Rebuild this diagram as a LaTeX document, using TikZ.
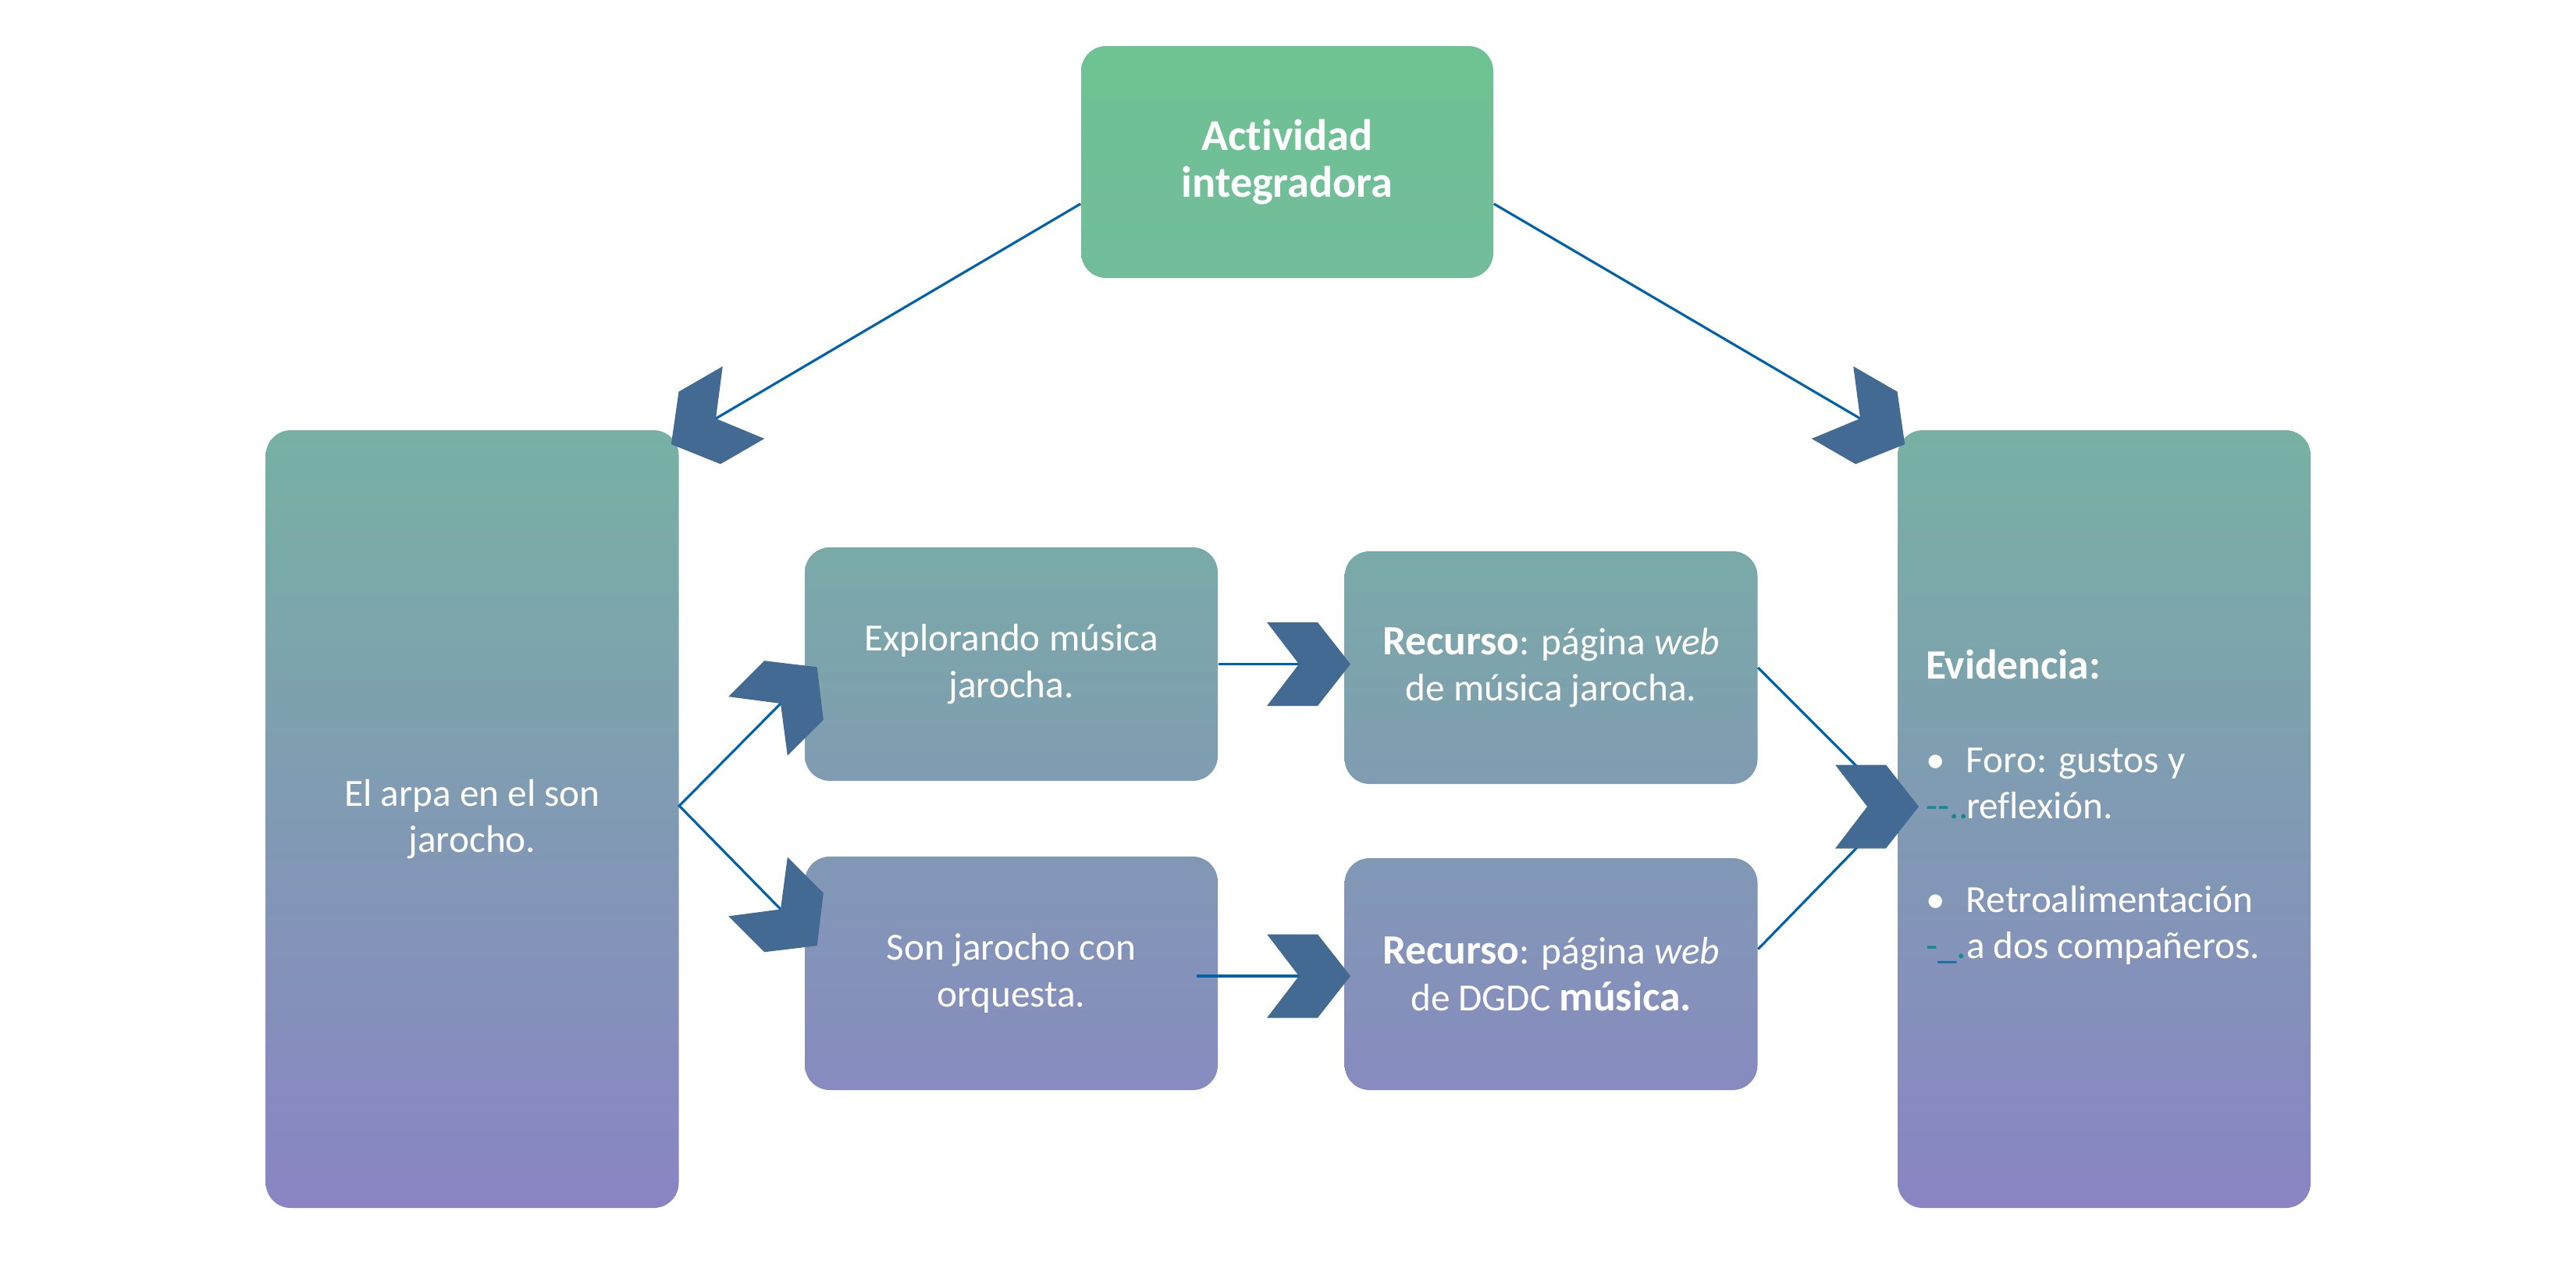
\documentclass[tikz,border=0pt]{standalone}
\usepackage{fontspec}
\setmainfont{Carlito}[Ligatures=NoCommon]
\usetikzlibrary{calc}
\definecolor{chevfill}{RGB}{66,106,147}
\definecolor{linkblue}{RGB}{0,98,170}
\definecolor{artteal}{RGB}{22,137,140}
\definecolor{artblue}{RGB}{24,108,158}
\definecolor{gA}{RGB}{110,195,146}
\definecolor{gB}{RGB}{114,188,156}
\definecolor{gTop}{RGB}{119,177,163}
\definecolor{gBot}{RGB}{138,132,196}
\definecolor{gUa}{RGB}{122,170,168}
\definecolor{gUb}{RGB}{128,156,178}
\definecolor{gLa}{RGB}{129,152,181}
\definecolor{gLb}{RGB}{135,139,191}
\newcommand{\bfbig}[1]{{\fontsize{15.2}{17}\selectfont\bfseries #1}}
\begin{document}
\begin{tikzpicture}[
  box/.style={rounded corners=0.32cm, text=white, align=center, inner sep=0pt,
              minimum width=5.29cm, font=\fontsize{14}{17}\selectfont},
  smallbox/.style={box, minimum height=2.99cm},
  link/.style={draw=linkblue, line width=0.9pt},
  chev/.pic={\fill[chevfill] (-0.41,0.535) -- (0.24,0.535) -- (0.66,0) -- (0.24,-0.535) -- (-0.41,-0.535) -- (0,0) -- cycle;}
]
\useasboundingbox (0,0) rectangle (33,-16.37);

% boxes
\node[box, minimum width=5.28cm, minimum height=2.97cm, top color=gA, bottom color=gB,
      font=\fontsize{16}{17}\selectfont\bfseries] (act) at (16.49,-2.075) {Actividad\\integradora};
\node[box, minimum height=9.96cm, top color=gTop, bottom color=gBot] (arpa) at (6.05,-10.49)
      {El arpa en el son\\jarocho.};
\node[box, minimum height=9.96cm, top color=gTop, bottom color=gBot, align=flush left,
      text width=4.57cm, inner xsep=0.36cm] (evid) at (26.955,-10.49)
      {\bfbig{Evidencia:}\\[17pt]
       \makebox[0.52cm][l]{\textbullet}Foro: gustos y\\
       \makebox[0.52cm][l]{\textcolor{artteal}{-{}-..}}reflexión.\\[17pt]
       \makebox[0.52cm][l]{\textbullet}Retroalimentación\\
       \makebox[0.52cm][l]{\textcolor{artteal}{-}\textcolor{artblue}{\_}\textcolor{artteal}{.}}a dos compañeros.\rule[-0.38cm]{0pt}{0pt}};
\node[smallbox, top color=gUa, bottom color=gUb] (expl) at (12.955,-8.505)
      {Explorando música\\jarocha.};
\node[smallbox, top color=gLa, bottom color=gLb] (son) at (12.955,-12.465)
      {Son jarocho con\\orquesta.};
\node[smallbox, minimum height=2.98cm, top color=gUa, bottom color=gUb] (rec1) at (19.87,-8.55)
      {\bfbig{Recurso}: página \textit{web}\\de música jarocha.};
\node[smallbox, minimum height=2.97cm, top color=gLa, bottom color=gLb] (rec2) at (19.87,-12.475)
      {\bfbig{Recurso}: página \textit{web}\\de DGDC \bfbig{música.}};

% connector points
\coordinate (nTL) at (9.17,-5.36);
\coordinate (nTR) at (23.83,-5.36);
\coordinate (nUp) at (10.00,-9.01);
\coordinate (nDn) at (10.00,-11.645);
\coordinate (nHa) at (16.64,-8.505);
\coordinate (nHb) at (16.64,-12.50);
\coordinate (nR) at (23.92,-10.33);
\coordinate (rEnd) at (24.30,-10.33);
\coordinate (apex) at ($(arpa.east)+(0,0.17)$);
\coordinate (sonStart) at (15.33,-12.50);

% connectors
\draw[link] ($(act.west)+(0,-0.535)$) -- (nTL);
\draw[link] ($(act.east)+(0,-0.535)$) -- (nTR);
\draw[link] (nUp) -- (apex) -- (nDn);
\draw[link] (expl.east) -- (nHa);
\draw[link] (sonStart) -- (nHb);
\draw[link] (rec1.east) -- (rEnd);
\draw[link] ($(rec2.east)+(0,0.32)$) -- (rEnd);

% chevrons
\path (nTL) pic[rotate=210] {chev};
\path (nTR) pic[rotate=-30] {chev};
\path (nUp) pic[rotate=45] {chev};
\path (nDn) pic[rotate=-45] {chev};
\path (nHa) pic {chev};
\path (nHb) pic {chev};
\path (nR) pic {chev};
\end{tikzpicture}
\end{document}
